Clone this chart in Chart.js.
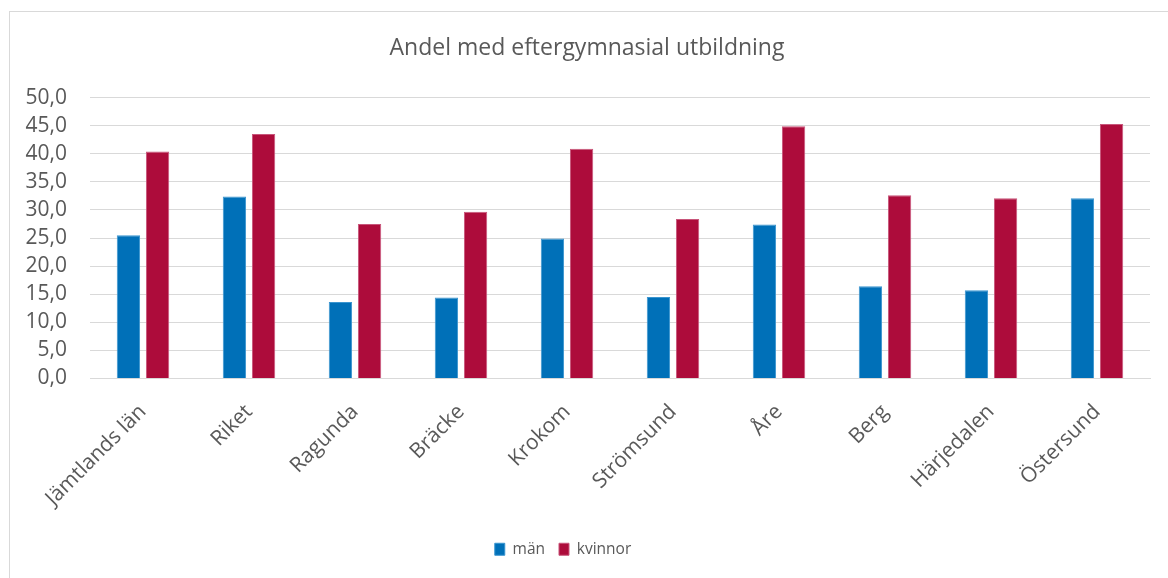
<!DOCTYPE html>
<html>
<head>
<meta charset="utf-8">
<script src="https://cdn.jsdelivr.net/npm/chart.js@4"></script>
<style>
  body { margin: 0; background: #fff; }
</style>
</head>
<body>
<canvas id="utbildning" width="1168" height="578"></canvas>
<script>
var kommuner = ['Jämtlands län', 'Riket', 'Ragunda', 'Bräcke', 'Krokom', 'Strömsund', 'Åre', 'Berg', 'Härjedalen', 'Östersund'];
var man = [25.5, 32.4, 13.6, 14.4, 24.9, 14.5, 27.4, 16.4, 15.7, 32.1];
var kvinnor = [40.4, 43.5, 27.5, 29.7, 40.9, 28.4, 44.9, 32.6, 32.1, 45.3];
var yTicks = [0, 5, 10, 15, 20, 25, 30, 35, 40, 45, 50];

var textColor = '#595959';
Chart.defaults.font.family = 'Open Sans';
Chart.defaults.color = textColor;

// light frame round the chart, like the Excel chart area
var ram = {
    id: 'ram',
    afterLayout: function (chart) {
        // the legend sits a bit left of the canvas centre in the original
        chart.legend.left -= 24;
        chart.legend.right -= 24;
    },
    beforeDraw: function (chart) {
        var c = chart.ctx;
        c.save();
        c.fillStyle = '#fff';
        c.fillRect(0, 0, chart.width, chart.height);
        c.strokeStyle = '#d9d9d9';
        c.lineWidth = 1;
        c.strokeRect(9.5, 11.5, chart.width, chart.height);
        c.restore();
    }
};

var ctx = document.getElementById('utbildning');
var barGraph = new Chart(ctx, {
    type: 'bar',
    data: {
        labels: kommuner,
        datasets: [
            {
                label: 'män',
                backgroundColor: '#0070b8',
                borderColor: '#3a95d0',
                borderWidth: 1,
                data: man
            },
            {
                label: 'kvinnor',
                backgroundColor: '#ad0c3b',
                borderColor: '#c8557a',
                borderWidth: 1,
                data: kvinnor
            }
        ]
    },
    options: {
        responsive: false,
        animation: false,
        categoryPercentage: 0.55,
        barPercentage: 0.8,
        layout: { padding: { left: 24, right: 18, top: 35, bottom: 11 } },
        plugins: {
            title: {
                display: true,
                text: 'Andel med eftergymnasial utbildning',
                font: { size: 23, weight: 'normal' },
                color: textColor,
                padding: { top: 0, bottom: 35 }
            },
            legend: {
                position: 'bottom',
                labels: {
                    boxWidth: 10,
                    boxHeight: 12,
                    padding: 14,
                    font: { size: 15.5 },
                    color: textColor
                }
            },
            tooltip: { enabled: false }
        },
        scales: {
            x: {
                grid: { display: false },
                border: { color: '#d9d9d9' },
                afterFit: function (axis) {
                    axis.paddingLeft = 0;
                    axis.height = 149;
                },
                ticks: {
                    maxRotation: 45,
                    minRotation: 45,
                    autoSkip: false,
                    padding: 13,
                    font: { size: 21 },
                    color: textColor
                }
            },
            y: {
                min: 0,
                max: 50,
                afterBuildTicks: function (axis) {
                    axis.ticks = yTicks.map(function (v) { return { value: v }; });
                },
                afterFit: function (axis) {
                    axis.width = 66;
                },
                grid: { color: '#d9d9d9', drawTicks: false },
                border: { display: false },
                ticks: {
                    autoSkip: false,
                    padding: 23,
                    font: { size: 21 },
                    color: textColor,
                    callback: function (v) { return v.toFixed(1).replace('.', ','); }
                }
            }
        }
    },
    plugins: [ram]
});
</script>
</body>
</html>
